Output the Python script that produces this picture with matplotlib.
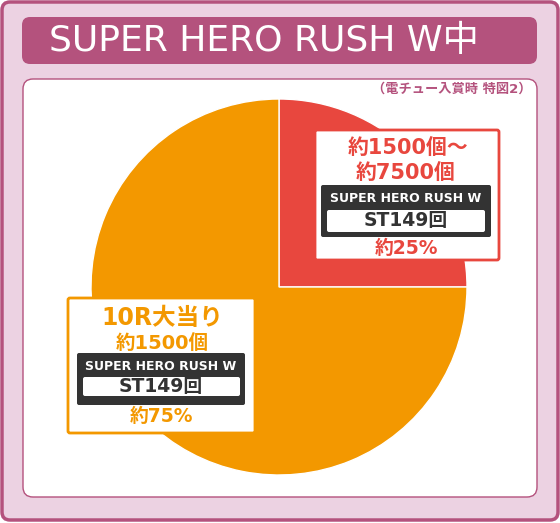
import matplotlib
matplotlib.use('Agg')
import matplotlib.pyplot as plt
from matplotlib.patches import FancyBboxPatch

plt.rcParams['font.family'] = ['DejaVu Sans', 'Noto Sans CJK JP']

title = 'SUPER HERO RUSH W中'
subtitle = '（電チュー入賞時 特図2）'
shares = [25, 75]
colors = ['#e8473e', '#f39800']
payout_red = ['約1500個～', '約7500個']
heading_orange = '10R大当り'
payout_orange = '約1500個'
mode_name = 'SUPER HERO RUSH W'
st_label = 'ST149回'
pct_labels = ['約25%', '約75%']

PINK = '#b4527d'
DARK = '#333333'

fig = plt.figure(figsize=(5.6, 5.23), dpi=100)

bg = fig.add_axes([0, 0, 1, 1])
bg.set_xlim(0, 560)
bg.set_ylim(523, 0)
bg.axis('off')


def box(ax, x0, y0, x1, y1, fc, ec='none', lw=0, r=3):
    p = FancyBboxPatch((x0, y0), x1 - x0, y1 - y0,
                       boxstyle='round,pad=0,rounding_size=%g' % r,
                       fc=fc, ec=ec, lw=lw)
    ax.add_patch(p)


# frame, title bar, white panel
box(bg, 2, 2, 558, 520, '#ecd2e2', PINK, 2.5, 8)
box(bg, 22, 17, 537, 64, PINK, r=8)
bg.text(264, 41, title, color='white', fontsize=26, ha='center', va='center')
box(bg, 23, 79, 537, 497, 'white', PINK, 1, 10)
bg.text(532, 89, subtitle, color=PINK, fontsize=9.5, ha='right', va='center',
        fontweight='bold')

# pie
pax = fig.add_axes([91 / 560, (523 - 475) / 523, 376 / 560, 376 / 523])
pax.pie(shares, colors=colors, startangle=90, counterclock=False,
        wedgeprops=dict(edgecolor='white', linewidth=1))
pax.set_xlim(-1, 1)
pax.set_ylim(-1, 1)

fg = fig.add_axes([0, 0, 1, 1], zorder=3)
fg.set_xlim(0, 560)
fg.set_ylim(523, 0)
fg.patch.set_alpha(0)
fg.axis('off')

# red label
box(fg, 315, 130, 499, 260, 'white', colors[0], 2, 2)
fg.text(408, 148, payout_red[0], color=colors[0], fontsize=15, ha='center',
        va='center', fontweight='bold')
fg.text(406, 173, payout_red[1], color=colors[0], fontsize=15, ha='center',
        va='center', fontweight='bold')
box(fg, 321, 185, 491, 237, DARK, r=2)
fg.text(406, 198, mode_name, color='white', fontsize=9, ha='center',
        va='center', fontweight='bold')
box(fg, 327, 210, 485, 232, 'white', r=2)
fg.text(406, 221, st_label, color=DARK, fontsize=13.5, ha='center',
        va='center', fontweight='bold')
fg.text(406, 248, pct_labels[0], color=colors[0], fontsize=13.5, ha='center',
        va='center', fontweight='bold')

# orange label
box(fg, 68, 298, 255, 433, 'white', colors[1], 2, 2)
fg.text(162, 318, heading_orange, color=colors[1], fontsize=17, ha='center',
        va='center', fontweight='bold')
fg.text(162, 343, payout_orange, color=colors[1], fontsize=14, ha='center',
        va='center', fontweight='bold')
box(fg, 77, 353, 245, 405, DARK, r=2)
fg.text(161, 367, mode_name, color='white', fontsize=9, ha='center',
        va='center', fontweight='bold')
box(fg, 83, 377, 240, 396, 'white', r=2)
fg.text(161, 386, st_label, color=DARK, fontsize=13.5, ha='center',
        va='center', fontweight='bold')
fg.text(161, 417, pct_labels[1], color=colors[1], fontsize=13.5, ha='center',
        va='center', fontweight='bold')

fig.savefig('out.png', dpi=100)
